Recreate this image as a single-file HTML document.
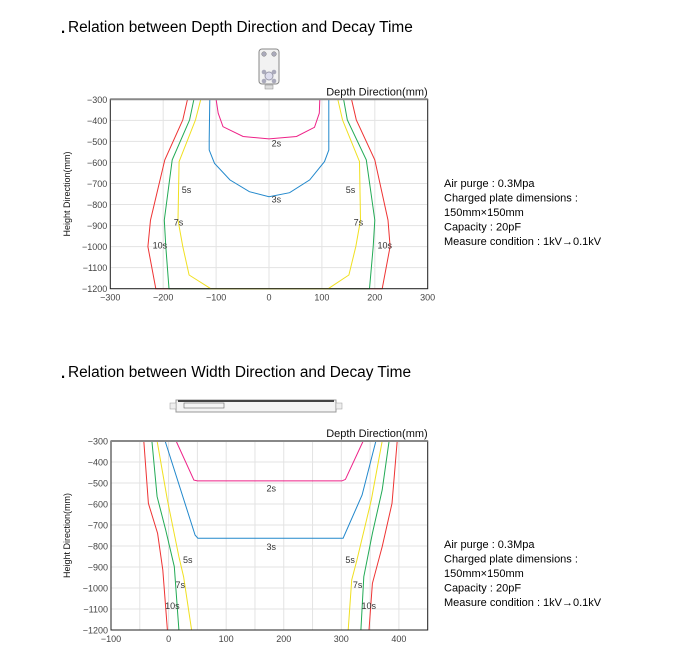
<!DOCTYPE html>
<html><head><meta charset="utf-8">
<style>
body{margin:0;background:#fff;font-family:"Liberation Sans",sans-serif;}
#root{position:relative;width:697px;height:668px;overflow:hidden;}
svg text{font-family:"Liberation Sans",sans-serif;}
</style></head>
<body><div id="root">
<svg id="svg" width="697" height="668">
  <text x="60" y="33" font-size="22">.</text>
  <text x="68" y="32" font-size="15.4">Relation between Depth Direction and Decay Time</text>
  <text x="60" y="378" font-size="22">.</text>
  <text x="68" y="377" font-size="15.4">Relation between Width Direction and Decay Time</text>
  <g>
    <rect x="259" y="49" width="20" height="35" rx="3" fill="#f2f2f2" stroke="#888"/>
    <circle cx="264" cy="54" r="2.3" fill="#aab" stroke="#777" stroke-width="0.5"/>
    <circle cx="274" cy="54" r="2.3" fill="#aab" stroke="#777" stroke-width="0.5"/>
    <circle cx="269" cy="76" r="4" fill="#dde" stroke="#99a"/>
    <circle cx="264" cy="72" r="2.3" fill="#aab"/><circle cx="274" cy="72" r="2.3" fill="#aab"/>
    <circle cx="264" cy="81" r="2.3" fill="#aab"/><circle cx="274" cy="81" r="2.3" fill="#aab"/>
    <rect x="265" y="85" width="8" height="4" fill="#ddd" stroke="#888" stroke-width="0.5"/>
  </g>
  <g>
    <rect x="176" y="400" width="160" height="12" fill="#f4f4f4" stroke="#999"/>
    <rect x="178" y="400" width="156" height="2" fill="#444"/>
    <rect x="170" y="403" width="6" height="6" fill="#eee" stroke="#999" stroke-width="0.5"/>
    <rect x="336" y="403" width="6" height="6" fill="#eee" stroke="#999" stroke-width="0.5"/>
    <rect x="184" y="403" width="40" height="5" fill="none" stroke="#666" stroke-width="0.6"/>
  </g>
  <g id="chart1"></g>
  <g id="chart2"></g>
  <g font-size="11">
    <text x="444" y="187">Air purge : 0.3Mpa</text>
    <text x="444" y="201.5">Charged plate dimensions :</text>
    <text x="444" y="216">150mm×150mm</text>
    <text x="444" y="230.5">Capacity : 20pF</text>
    <text x="444" y="245">Measure condition : 1kV→0.1kV</text>
  </g>
  <g font-size="11">
    <text x="444" y="548">Air purge : 0.3Mpa</text>
    <text x="444" y="562.5">Charged plate dimensions :</text>
    <text x="444" y="577">150mm×150mm</text>
    <text x="444" y="591.5">Capacity : 20pF</text>
    <text x="444" y="606">Measure condition : 1kV→0.1kV</text>
  </g>
</svg>
</div>
<script>
// ---- Chart 1 data (depth direction) ----
const c1XTicks = [-300,-200,-100,0,100,200,300];
const c1YTicks = [-300,-400,-500,-600,-700,-800,-900,-1000,-1100,-1200];
const c1RedX = [-154,-163,-197,-224,-229,-214, 214,229,225,200,165,156];
const c1RedY = [-300,-398,-588,-874,-1000,-1200, -1200,-1000,-874,-588,-398,-300];
const c1GreenX = [-142,-150,-183,-198,-195,-189, 190,197,200,184,148,141];
const c1GreenY = [-300,-398,-588,-874,-1000,-1200, -1200,-1000,-874,-588,-398,-300];
const c1YellowX = [-129,-139,-170,-172,-163,-151,-110, 112,151,164,173,171,139,130];
const c1YellowY = [-300,-398,-596,-874,-1000,-1135,-1200, -1200,-1135,-1000,-874,-596,-398,-300];
const c1BlueX = [-112,-113,-113,-103,-74,-37,0,39,77,105,113,113];
const c1BlueY = [-300,-493,-541,-604,-683,-739,-763,-744,-683,-596,-541,-300];
const c1PinkX = [-100,-96,-87,-49,0,52,86,95,96];
const c1PinkY = [-300,-366,-430,-477,-488,-477,-433,-366,-300];
const c1Labels = ["2s","3s","5s","5s","7s","7s","10s","10s"];
const c1LabelX = [5,5,-165,145,-180,160,-220,205];
const c1LabelY = [-525,-790,-745,-745,-900,-900,-1010,-1010];

// ---- Chart 2 data (width direction) ----
const c2XTicks = [-100,0,100,200,300,400];
const c2YTicks = [-300,-400,-500,-600,-700,-800,-900,-1000,-1100,-1200];
const c2RedX = [-43,-35,-19,-10,-2];
const c2RedY = [-300,-597,-740,-914,-1200];
const c2RedRX = [397,388,371,354,348];
const c2RedRY = [-300,-597,-803,-978,-1200];
const c2GreenX = [-29,-20,-5,10,18];
const c2GreenY = [-300,-565,-724,-898,-1200];
const c2GreenRX = [383,371,354,339,334];
const c2GreenRY = [-300,-533,-740,-946,-1200];
const c2YellowX = [-20,-2,18,26,40];
const c2YellowY = [-300,-581,-851,-946,-1200];
const c2YellowRX = [371,352,327,318,312];
const c2YellowRY = [-300,-581,-867,-962,-1200];
const c2BlueX = [-6,46,51,303,336,360];
const c2BlueY = [-300,-748,-763,-763,-557,-300];
const c2PinkX = [13,44,50,301,307,338];
const c2PinkY = [-300,-486,-490,-490,-483,-300];
const c2Labels = ["2s","3s","5s","5s","7s","7s","10s","10s"];
const c2LabelX = [170,170,25,307,12,320,-6,335];
const c2LabelY = [-540,-820,-880,-880,-1000,-1000,-1100,-1100];

const NS="http://www.w3.org/2000/svg";
function mk(parent,tag,attrs){const e=document.createElementNS(NS,tag);for(const k in attrs)e.setAttribute(k,attrs[k]);parent.appendChild(e);return e;}

function drawChart(g,opt){
  const sx=v=>opt.x0+(v-opt.xmin)/(opt.xmax-opt.xmin)*(opt.x1-opt.x0);
  const sy=v=>opt.y0+(v-opt.ymax)/(opt.ymin-opt.ymax)*(opt.y1-opt.y0);
  for(let v=opt.xmin;v<=opt.xmax;v+=opt.gridStep){
    const l=mk(g,'line',{x1:sx(v),x2:sx(v),y1:opt.y0,y2:opt.y1,stroke:'#e3e3e3','stroke-width':1});
    
    
  }
  opt.yTicks.forEach(v=>{
    const l=mk(g,'line',{x1:opt.x0,x2:opt.x1,y1:sy(v),y2:sy(v),stroke:'#e3e3e3','stroke-width':1});
    
    
    const t=mk(g,'text',{x:opt.x0-3,y:sy(v)+3.5,'font-size':9,'text-anchor':'end',fill:'#444'});
    t.textContent=String(v).replace('-','−');
    
    
  });
  opt.xTicks.forEach(v=>{
    const t=mk(g,'text',{x:sx(v),y:opt.y1+12,'font-size':9,'text-anchor':'middle',fill:'#444'});
    t.textContent=String(v).replace('-','−');
    
    
  });
  opt.series.forEach(s=>{
    const pts=s.x.map((v,i)=>sx(v).toFixed(1)+','+sy(s.y[i]).toFixed(1)).join(' ');
    const p=mk(g,'polyline',{points:pts,fill:'none',stroke:s.color,'stroke-width':1});
    
    
  });
  opt.labels.forEach((lab,i)=>{
    const t=mk(g,'text',{x:sx(opt.lx[i]),y:sy(opt.ly[i]),'font-size':9,fill:'#333'});
    t.textContent=lab;
    
    
  });
  const f=mk(g,'rect',{x:opt.x0,y:opt.y0,width:opt.x1-opt.x0,height:opt.y1-opt.y0,fill:'none',stroke:'#222','stroke-width':1});
  
  
  const top=mk(g,'line',{x1:opt.x0,x2:opt.x1,y1:opt.y0,y2:opt.y0,stroke:'#888','stroke-width':2});
  
  
  const xt=mk(g,'text',{x:opt.x1,y:opt.y0-4,'font-size':11,'text-anchor':'end',fill:'#111'});
  xt.textContent='Depth Direction(mm)';
  
  
  const cy=(opt.y0+opt.y1)/2;
  const yt=mk(g,'text',{x:70,y:cy,'font-size':9,'text-anchor':'middle',fill:'#111',transform:'rotate(-90 70 '+cy+')'});
  yt.textContent='Height Direction(mm)';
  
  
}

drawChart(document.getElementById('chart1'),{
  x0:110.3,x1:427.7,y0:99.3,y1:288.7,xmin:-300,xmax:300,ymin:-1200,ymax:-300,gridStep:100,
  xTicks:c1XTicks,yTicks:c1YTicks,
  series:[
    {x:c1RedX,y:c1RedY,color:'#ee3333',name:'curve-10s'},
    {x:c1GreenX,y:c1GreenY,color:'#22aa55',name:'curve-7s'},
    {x:c1YellowX,y:c1YellowY,color:'#f0e020',name:'curve-5s'},
    {x:c1BlueX,y:c1BlueY,color:'#2288cc',name:'curve-3s'},
    {x:c1PinkX,y:c1PinkY,color:'#ee2288',name:'curve-2s'}],
  labels:c1Labels,lx:c1LabelX,ly:c1LabelY
});
drawChart(document.getElementById('chart2'),{
  x0:111,x1:427.7,y0:441,y1:630,xmin:-100,xmax:450,ymin:-1200,ymax:-300,gridStep:50,
  xTicks:c2XTicks,yTicks:c2YTicks,
  series:[
    {x:c2RedX,y:c2RedY,color:'#ee3333',name:'curve-10s-left'},
    {x:c2RedRX,y:c2RedRY,color:'#ee3333',name:'curve-10s-right'},
    {x:c2GreenX,y:c2GreenY,color:'#22aa55',name:'curve-7s-left'},
    {x:c2GreenRX,y:c2GreenRY,color:'#22aa55',name:'curve-7s-right'},
    {x:c2YellowX,y:c2YellowY,color:'#f0e020',name:'curve-5s-left'},
    {x:c2YellowRX,y:c2YellowRY,color:'#f0e020',name:'curve-5s-right'},
    {x:c2BlueX,y:c2BlueY,color:'#2288cc',name:'curve-3s'},
    {x:c2PinkX,y:c2PinkY,color:'#ee2288',name:'curve-2s'}],
  labels:c2Labels,lx:c2LabelX,ly:c2LabelY
});
</script>
</body></html>
